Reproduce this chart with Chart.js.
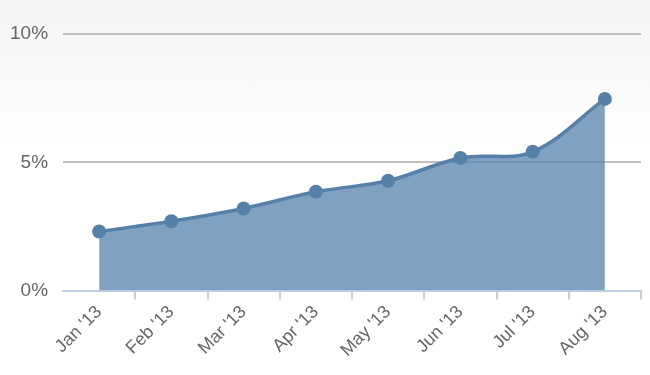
<!DOCTYPE html>
<html>
<head>
<meta charset="utf-8">
<script src="https://cdn.jsdelivr.net/npm/chart.js@4.4.0/dist/chart.umd.min.js"></script>
<style>
  html, body { margin: 0; padding: 0; }
  body { background: linear-gradient(to bottom, #f4f4f4 0px, #ffffff 150px, #ffffff 375px); }
  #wrap { width: 650px; height: 375px; }
</style>
</head>
<body>
<div id="wrap"><canvas id="rateChart"></canvas></div>
<script>
// monthly values, percent
const months = ["Jan '13", "Feb '13", "Mar '13", "Apr '13", "May '13", "Jun '13", "Jul '13", "Aug '13"];
const rates = [2.3, 2.7, 3.2, 3.85, 4.28, 5.17, 5.41, 7.47];
const yTicks = [0, 5, 10];

const ctx = document.getElementById('rateChart');
new Chart(ctx, {
  type: 'line',
  data: {
    labels: months,
    datasets: [{
      data: rates,
      borderColor: '#5581a9',
      backgroundColor: 'rgba(85, 129, 169, 0.75)',
      borderWidth: 3.5,
      fill: 'origin',
      tension: 0.35,
      pointRadius: 7,
      pointBackgroundColor: '#5581a9',
      pointBorderWidth: 0
    }]
  },
  options: {
    responsive: true,
    maintainAspectRatio: false,
    animation: false,
    layout: { padding: { top: 34, right: 9, left: -5, bottom: 12 } },
    plugins: { legend: { display: false }, tooltip: { enabled: false } },
    scales: {
      x: {
        offset: true,
        grid: {
          offset: true,
          drawOnChartArea: false,
          drawTicks: true,
          tickLength: 9,
          // no tick mark at the left end of the axis
          color: (c) => c.index === 0 ? 'rgba(0,0,0,0)' : '#c0d0e0',
          lineWidth: 2
        },
        border: { color: '#c0d0e0', width: 2 },
        ticks: {
          minRotation: 45,
          maxRotation: 45,
          padding: 2,
          color: '#666666',
          font: { family: "'Liberation Sans', Arial", size: 18 }
        }
      },
      y: {
        min: 0,
        max: 10,
        afterBuildTicks: (axis) => { axis.ticks = yTicks.map(v => ({ value: v })); },
        grid: {
          drawTicks: false,
          color: (c) => c.tick && c.tick.value === 0 ? 'rgba(0,0,0,0)' : '#c0c0c0',
          lineWidth: 2
        },
        border: { display: false },
        ticks: {
          padding: 15,
          color: '#666666',
          font: { family: "'Liberation Sans', Arial", size: 19 },
          callback: (v) => v + '%'
        }
      }
    }
  }
});
</script>
</body>
</html>
